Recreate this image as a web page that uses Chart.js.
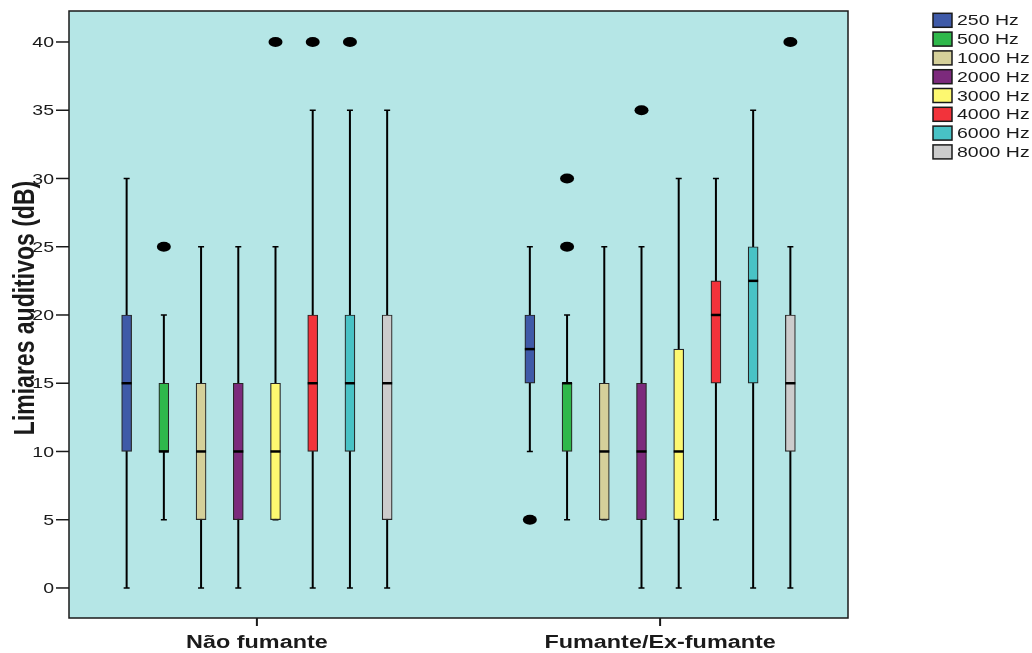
<!DOCTYPE html>
<html lang="pt">
<head>
  <meta charset="UTF-8">
  <title>Limiares auditivos</title>
  <script src="https://cdn.jsdelivr.net/npm/chart.js"></script>
  <style>
    body {
      margin: 0;
      padding: 0;
      background: #ffffff;
    }
    #wrap {
      width: 1032px;
      height: 653px;
    }
  </style>
</head>
<body>

  <div id="wrap">
    <canvas id="boxChart" width="1032" height="653"></canvas>
  </div>

  <script>
    // groups on the x axis
    const groups = ['Não fumante', 'Fumante/Ex-fumante'];

    // one series per frequency
    const freqs = ['250 Hz', '500 Hz', '1000 Hz', '2000 Hz', '3000 Hz', '4000 Hz', '6000 Hz', '8000 Hz'];
    const colors = ['#3f5aa8', '#2fb84b', '#d5d09a', '#7c2a7c', '#fdf870', '#f2333b', '#48c2c5', '#cccccc'];

    // each row: [Não fumante, Fumante/Ex-fumante]
    const whiskerLow  = [[0, 10], [5, 5], [0, 5], [0, 0], [5, 0], [0, 5], [0, 0], [0, 0]];
    const q1          = [[10, 15], [10, 10], [5, 5], [5, 5], [5, 5], [10, 15], [10, 15], [5, 10]];
    const median      = [[15, 17.5], [10, 15], [10, 10], [10, 10], [10, 10], [15, 20], [15, 22.5], [15, 15]];
    const q3          = [[20, 20], [15, 15], [15, 15], [15, 15], [15, 17.5], [20, 22.5], [20, 25], [20, 20]];
    const whiskerHigh = [[30, 25], [20, 20], [25, 25], [25, 25], [25, 30], [35, 30], [35, 35], [35, 25]];
    const outliers    = [[[], [5]], [[25], [25, 30]], [[], []], [[], [35]], [[40], []], [[40], []], [[40], []], [[], [40]]];

    const yTicks = [0, 5, 10, 15, 20, 25, 30, 35, 40];
    const yTitle = 'Limiares auditivos (dB)';

    const STEP = 0.0923;   // distance between boxes inside a group (axis units)
    const STRETCH = 1.3;   // the original picture is stretched sideways
    const pos = (gi, i) => gi + (i - 3.5) * STEP;

    function stretchedText(ctx, text, x, y, sx) {
      ctx.save();
      ctx.translate(x, y);
      ctx.scale(sx, 1);
      ctx.fillText(text, 0, 0);
      ctx.restore();
    }

    const boxPlot = {
      id: 'boxPlot',
      beforeDatasetsDraw(chart) {
        const { ctx, chartArea: a, scales: { x, y } } = chart;
        ctx.save();
        ctx.fillStyle = '#b5e6e6';
        ctx.fillRect(a.left, a.top, a.width, a.height);

        // whiskers + caps
        ctx.strokeStyle = '#000';
        freqs.forEach((f, i) => {
          groups.forEach((g, gi) => {
            const px = x.getPixelForValue(pos(gi, i));
            const lo = y.getPixelForValue(whiskerLow[i][gi]);
            const hi = y.getPixelForValue(whiskerHigh[i][gi]);
            ctx.lineWidth = 2;
            ctx.beginPath();
            ctx.moveTo(px, lo);
            ctx.lineTo(px, hi);
            ctx.stroke();
            ctx.lineWidth = 1.5;
            ctx.beginPath();
            ctx.moveTo(px - 3, lo); ctx.lineTo(px + 3, lo);
            ctx.moveTo(px - 3, hi); ctx.lineTo(px + 3, hi);
            ctx.stroke();
          });
        });
        ctx.restore();
      },
      afterDatasetsDraw(chart) {
        const { ctx, chartArea: a, scales: { x, y } } = chart;
        ctx.save();

        // medians and outliers
        freqs.forEach((f, i) => {
          groups.forEach((g, gi) => {
            const px = x.getPixelForValue(pos(gi, i));
            const my = y.getPixelForValue(median[i][gi]);
            ctx.strokeStyle = '#000';
            ctx.lineWidth = 2.5;
            ctx.beginPath();
            ctx.moveTo(px - 5, my);
            ctx.lineTo(px + 5, my);
            ctx.stroke();

            ctx.fillStyle = '#000';
            outliers[i][gi].forEach(v => {
              ctx.beginPath();
              ctx.ellipse(px, y.getPixelForValue(v), 7, 5, 0, 0, Math.PI * 2);
              ctx.fill();
            });
          });
        });

        // frame
        ctx.strokeStyle = '#1a1a1a';
        ctx.lineWidth = 1.5;
        ctx.strokeRect(a.left, a.top, a.width, a.height);

        // y ticks
        ctx.fillStyle = '#1a1a1a';
        ctx.font = '15px "Liberation Sans", Arial, sans-serif';
        ctx.textAlign = 'right';
        ctx.textBaseline = 'middle';
        yTicks.forEach(v => {
          const py = y.getPixelForValue(v);
          ctx.beginPath();
          ctx.moveTo(a.left - 13, py);
          ctx.lineTo(a.left, py);
          ctx.stroke();
          stretchedText(ctx, String(v), a.left - 15, py + 1, STRETCH);
        });

        // x ticks
        ctx.font = 'bold 18px "Liberation Sans", Arial, sans-serif';
        ctx.textAlign = 'center';
        ctx.textBaseline = 'alphabetic';
        ctx.lineWidth = 2;
        groups.forEach((g, gi) => {
          const px = x.getPixelForValue(gi);
          ctx.beginPath();
          ctx.moveTo(px, a.bottom);
          ctx.lineTo(px, a.bottom + 8);
          ctx.stroke();
          stretchedText(ctx, g, px, a.bottom + 30, STRETCH);
        });

        // y title
        ctx.save();
        ctx.font = 'bold 23px "Liberation Sans", Arial, sans-serif';
        ctx.translate(34, 308);
        ctx.scale(STRETCH, 1);
        ctx.rotate(-Math.PI / 2);
        ctx.textAlign = 'center';
        ctx.textBaseline = 'alphabetic';
        ctx.fillText(yTitle, 0, 0);
        ctx.restore();

        // legend
        ctx.font = '15px "Liberation Sans", Arial, sans-serif';
        ctx.textAlign = 'left';
        ctx.textBaseline = 'middle';
        freqs.forEach((f, i) => {
          const cy = 20.3 + i * 18.8;
          ctx.fillStyle = colors[i];
          ctx.fillRect(933, cy - 7, 19, 14);
          ctx.strokeStyle = '#1a1a1a';
          ctx.lineWidth = 1.5;
          ctx.strokeRect(933, cy - 7, 19, 14);
          ctx.fillStyle = '#1a1a1a';
          stretchedText(ctx, f, 957, cy + 1, 1.3);
        });

        ctx.restore();
      }
    };

    const datasets = freqs.map((f, i) => ({
      label: f,
      data: groups.map((g, gi) => ({ x: pos(gi, i), y: [q1[i][gi], q3[i][gi]] })),
      backgroundColor: colors[i],
      borderColor: '#262626',
      borderWidth: 1.2,
      borderSkipped: false,
      barThickness: 10,
      grouped: false
    }));

    const ctx = document.getElementById('boxChart').getContext('2d');
    new Chart(ctx, {
      type: 'bar',
      data: { datasets },
      options: {
        responsive: false,
        animation: false,
        layout: { padding: { top: 11, right: 184, left: 0, bottom: 0 } },
        plugins: {
          legend: { display: false },
          tooltip: { enabled: false }
        },
        scales: {
          x: {
            type: 'linear',
            min: -0.466,
            max: 1.466,
            offset: false,
            grid: { display: false },
            border: { display: false },
            ticks: { display: false },
            afterFit: s => { s.height = 35; }
          },
          y: {
            type: 'linear',
            min: -2.2,
            max: 42.27,
            grid: { display: false },
            border: { display: false },
            ticks: { display: false },
            afterFit: s => { s.width = 69; }
          }
        }
      },
      plugins: [boxPlot]
    });
  </script>

</body>
</html>
